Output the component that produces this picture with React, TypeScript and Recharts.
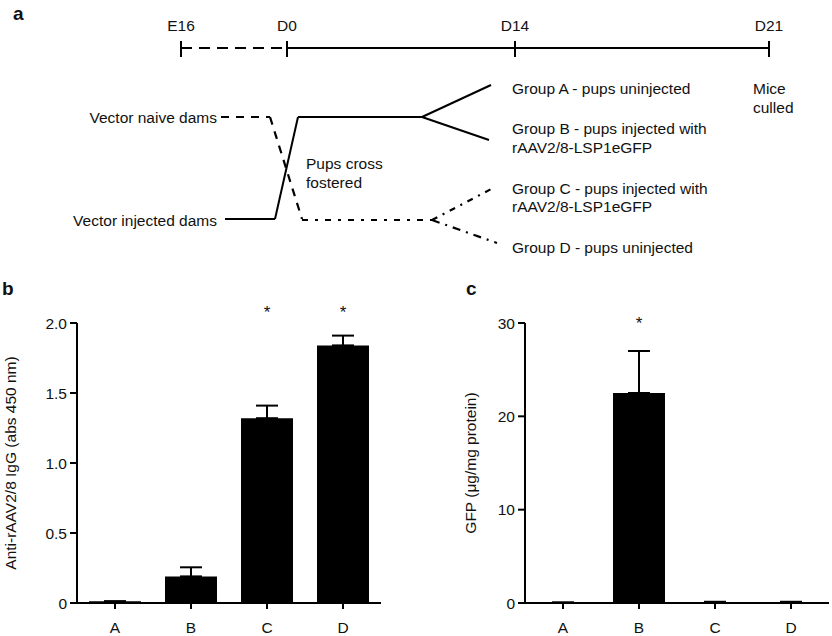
import React from "react";
import {
  ComposedChart,
  Scatter,
  XAxis,
  YAxis,
  BarChart,
  Bar,
  ErrorBar,
  ReferenceDot,
  ReferenceLine,
  Label,
} from "recharts";

const FONT = '"Liberation Sans", Arial, Helvetica, sans-serif';
const INK = "#000";

// ---- panel a: schematic, in diagram units (y grows downward)
const timelineMarks = [
  { x: 181, y: 25, text: "E16" },
  { x: 287, y: 25, text: "D0" },
  { x: 515, y: 25, text: "D14" },
  { x: 769, y: 25, text: "D21" },
];
const preBirthLine = [
  { x: 181, y: 48 },
  { x: 287, y: 48 },
];
const postBirthLine = [
  { x: 287, y: 48 },
  { x: 769, y: 48 },
];
const injectedDamPath = [
  { x: 225, y: 219 },
  { x: 275, y: 219 },
  { x: 298, y: 117 },
  { x: 422, y: 117 },
];
const groupABranch = [
  { x: 422, y: 117 },
  { x: 491, y: 85 },
];
const groupBBranch = [
  { x: 422, y: 117 },
  { x: 489, y: 140 },
];
const naiveDamPath = [
  { x: 221, y: 117 },
  { x: 270, y: 117 },
  { x: 302, y: 219 },
];
const fosteredPath = [
  { x: 302, y: 220 },
  { x: 432, y: 220 },
];
const groupCBranch = [
  { x: 432, y: 220 },
  { x: 495, y: 187 },
];
const groupDBranch = [
  { x: 432, y: 220 },
  { x: 497, y: 243 },
];
const damNotes = [
  { x: 217, y: 117, text: "Vector naive dams" },
  { x: 217, y: 220, text: "Vector injected dams" },
];
const groupNotes = [
  { x: 306, y: 163, text: "Pups cross" },
  { x: 306, y: 182, text: "fostered" },
  { x: 512, y: 88, text: "Group A - pups uninjected" },
  { x: 512, y: 128, text: "Group B - pups injected with" },
  { x: 512, y: 147, text: "rAAV2/8-LSP1eGFP" },
  { x: 512, y: 188, text: "Group C - pups injected with" },
  { x: 512, y: 206, text: "rAAV2/8-LSP1eGFP" },
  { x: 512, y: 247, text: "Group D - pups uninjected" },
  { x: 753, y: 88, text: "Mice" },
  { x: 753, y: 107, text: "culled" },
];

// ---- panels b, c: bar data
const groups = ["A", "B", "C", "D"];
const antiMeans = [0.012, 0.19, 1.32, 1.84];
const antiSem = [0, 0.065, 0.09, 0.07];
const antiTicks = [0, 0.5, 1, 1.5, 2];
const antiStars = [
  { group: "C", y: 2.08 },
  { group: "D", y: 2.08 },
];
const gfpMeans = [0.05, 22.5, 0.12, 0.12];
const gfpSem = [0, 4.5, 0, 0];
const gfpTicks = [0, 10, 20, 30];
const gfpStars = [{ group: "B", y: 30 }];

const antiData = groups.map((g, i) => ({
  group: g,
  value: antiMeans[i],
  err: [0, antiSem[i]],
}));
const gfpData = groups.map((g, i) => ({
  group: g,
  value: gfpMeans[i],
  err: [0, gfpSem[i]],
}));

const textStyle = { fontFamily: FONT, fontSize: 15.5, fill: "#111" };

// text drawn at a scatter point
const noteShape = (anchor: "start" | "middle" | "end") => (props: any) =>
  (
    <text
      x={props.cx}
      y={props.cy}
      textAnchor={anchor}
      dominantBaseline="central"
      style={textStyle}
    >
      {props.payload.text}
    </text>
  );

// polyline -> list of reference segments
const segments = (pts: { x: number; y: number }[]) =>
  pts.slice(1).map((p, i) => [pts[i], p]);

const drawPath = (pts: any[], key: string, dash?: string, w = 2) =>
  segments(pts).map((seg, i) => (
    <ReferenceLine
      key={`${key}-${i}`}
      segment={seg}
      stroke={INK}
      strokeWidth={w}
      strokeDasharray={dash}
    />
  ));

// rotated y axis title
const yTitle = (text: string, shift: number) => (props: any) => {
  const vb = props.viewBox || { x: 0, y: 0, height: 0 };
  const cx = vb.x + shift;
  const cy = vb.y + vb.height / 2;
  return (
    <text
      x={cx}
      y={cy}
      transform={`rotate(-90 ${cx} ${cy})`}
      textAnchor="middle"
      dominantBaseline="central"
      style={textStyle}
    >
      {text}
    </text>
  );
};

const axisProps = {
  axisLine: { stroke: INK, strokeWidth: 2 },
  tickLine: { stroke: INK, strokeWidth: 2 },
  tick: textStyle,
};

const Diagram = () => (
  <ComposedChart
    width={832}
    height={265}
    margin={{ top: 0, right: 0, bottom: 0, left: 0 }}
  >
    <XAxis type="number" dataKey="x" domain={[0, 832]} hide allowDataOverflow />
    <YAxis type="number" dataKey="y" domain={[0, 265]} reversed hide allowDataOverflow />
    {drawPath(preBirthLine, "pre", "11 7")}
    {drawPath(postBirthLine, "post")}
    {timelineMarks.map((m) =>
      drawPath(
        [
          { x: m.x, y: 41 },
          { x: m.x, y: 57 },
        ],
        `tick-${m.text}`
      )
    )}
    {drawPath(injectedDamPath, "inj")}
    {drawPath(groupABranch, "ga")}
    {drawPath(groupBBranch, "gb")}
    {drawPath(naiveDamPath, "naive", "8 7", 2.2)}
    {drawPath(fosteredPath, "fost", "6 7 3 7", 2.2)}
    {drawPath(groupCBranch, "gc", "6 6 2 6", 2.2)}
    {drawPath(groupDBranch, "gd", "8 6 2 6", 2.2)}
    <Scatter data={timelineMarks} dataKey="y" shape={noteShape("middle")} isAnimationActive={false} />
    <Scatter data={damNotes} dataKey="y" shape={noteShape("end")} isAnimationActive={false} />
    <Scatter data={groupNotes} dataKey="y" shape={noteShape("start")} isAnimationActive={false} />
  </ComposedChart>
);

const BarPanel = ({
  data,
  width,
  margin,
  domain,
  ticks,
  fmt,
  title,
  titleShift,
  stars,
}: any) => (
  <BarChart width={width} height={366} data={data} margin={margin} barSize={52}>
    <XAxis dataKey="group" height={33} tickSize={6} tickMargin={13} {...axisProps} />
    <YAxis
      width={50}
      domain={domain}
      ticks={ticks}
      tickFormatter={fmt}
      tickSize={7}
      tickMargin={3}
      allowDataOverflow
      {...axisProps}
      label={<Label content={yTitle(title, titleShift)} />}
    />
    <Bar dataKey="value" fill={INK} isAnimationActive={false}>
      <ErrorBar dataKey="err" width={11} stroke={INK} strokeWidth={2} direction="y" />
    </Bar>
    {stars.map((s: any) => (
      <ReferenceDot
        key={s.group}
        x={s.group}
        y={s.y}
        r={0}
        ifOverflow="visible"
        stroke="none"
        label={{ value: "*", position: "center", ...textStyle, fontSize: 17 }}
      />
    ))}
  </BarChart>
);

export default function App() {
  return (
    <div
      style={{
        position: "absolute",
        left: 0,
        top: 0,
        width: 832,
        height: 636,
        background: "#fff",
        fontFamily: FONT,
      }}
    >
      <div style={{ position: "absolute", left: 0, top: 0 }}>
        <Diagram />
      </div>
      <div style={{ position: "absolute", left: 0, top: 270 }}>
        <BarPanel
          data={antiData}
          width={410}
          margin={{ top: 53, right: 29, bottom: 0, left: 27 }}
          domain={[0, 2]}
          ticks={antiTicks}
          fmt={(v: number) => (v === 0 ? "0" : v.toFixed(1))}
          title="Anti-rAAV2/8 IgG (abs 450 nm)"
          titleShift={-17}
          stars={antiStars}
        />
      </div>
      <div style={{ position: "absolute", left: 420, top: 270 }}>
        <BarPanel
          data={gfpData}
          width={412}
          margin={{ top: 53, right: 3, bottom: 0, left: 55 }}
          domain={[0, 30]}
          ticks={gfpTicks}
          fmt={(v: number) => String(v)}
          title="GFP (μg/mg protein)"
          titleShift={-5}
          stars={gfpStars}
        />
      </div>
      <svg
        width={832}
        height={636}
        style={{ position: "absolute", left: 0, top: 0, pointerEvents: "none" }}
      >
        <g style={{ fontFamily: FONT, fontSize: 19, fontWeight: 700, fill: "#111" }}>
          <text x={13} y={20}>a</text>
          <text x={2} y={295}>b</text>
          <text x={466} y={295}>c</text>
        </g>
      </svg>
    </div>
  );
}
